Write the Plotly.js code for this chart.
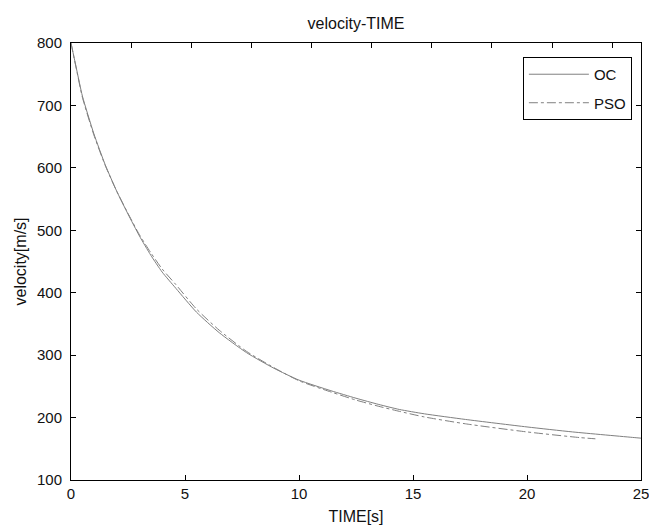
<!DOCTYPE html>
<html>
<head>
<meta charset="utf-8">
<script src="https://cdn.plot.ly/plotly-3.0.1.min.js"></script>
<style>html,body{margin:0;padding:0;background:#fff;}#chart{width:649px;height:525px;}</style>
</head>
<body>
<div id="chart"></div>
<script>
// Data
var ocTime = [0, 0.25, 0.5, 1.0, 1.5, 2.0, 2.5, 3.0, 3.5, 4.0, 4.6, 5.5, 6.5, 7.7, 8.9, 10.0, 11.4, 12.5, 13.5, 14.4, 15.5, 17.3, 20.0, 22.0, 24.7, 25.0];
var ocVelocity = [800, 757, 715, 655, 605, 563, 526, 491, 460, 433, 407, 369, 336, 304, 279, 260, 243, 231, 221, 213, 206, 197, 185, 177, 168, 167];
var psoTime = [0, 0.25, 0.5, 1.0, 1.5, 2.0, 2.5, 3.0, 3.5, 4.0, 4.6, 5.5, 6.5, 7.7, 8.9, 10.0, 11.4, 12.5, 13.5, 14.4, 15.5, 17.3, 20.0, 22.3, 23.0];
var psoVelocity = [800, 756, 713, 653, 604, 563, 527, 493, 464, 438, 413, 374, 340, 306, 280, 259, 241, 228, 218, 210, 201, 190, 177, 168, 166];
var seriesNames = ['OC', 'PSO'];
var xTickVals = [0, 5, 10, 15, 20, 25];
var yTickVals = [100, 200, 300, 400, 500, 600, 700, 800];

var fontFamily = 'Liberation Sans, Arial, Helvetica, sans-serif';
var lineColor = '#808080';
var textColor = '#111';

var traces = [
  {x: ocTime, y: ocVelocity, type: 'scatter', mode: 'lines', name: seriesNames[0],
   legendgroup: 'a', line: {color: lineColor, width: 1, dash: 'solid', shape: 'spline', smoothing: 0.6}, hoverinfo: 'skip'},
  {x: psoTime, y: psoVelocity, type: 'scatter', mode: 'lines', name: seriesNames[1],
   legendgroup: 'b', line: {color: lineColor, width: 1, dash: 'dashdot', shape: 'spline', smoothing: 0.6}, hoverinfo: 'skip'},
  {x: [], y: [], type: 'scatter', mode: 'lines', xaxis: 'x2', yaxis: 'y', showlegend: false, hoverinfo: 'skip'}
];

var layout = {
  width: 649, height: 525,
  margin: {l: 71, r: 8, t: 43, b: 45, pad: 0},
  paper_bgcolor: '#fff', plot_bgcolor: '#fff',
  font: {family: fontFamily, size: 15, color: textColor},
  showlegend: true,
  title: {text: 'velocity-TIME', font: {family: fontFamily, size: 16, color: textColor},
          x: 0.5, xref: 'paper', xanchor: 'center', y: 1 - 23/525, yref: 'container', yanchor: 'middle'},
  xaxis: {
    range: [0, 25], tickvals: xTickVals, ticktext: xTickVals.map(String),
    ticks: 'inside', ticklen: 5, tickcolor: '#000', tickwidth: 1,
    showline: true, linecolor: '#000', linewidth: 1, mirror: true,
    showgrid: false, zeroline: false, ticklabeloverflow: 'allow',
    tickfont: {family: fontFamily, size: 15, color: textColor},
    title: {text: 'TIME[s]', font: {family: fontFamily, size: 16, color: textColor}, standoff: 13}
  },
  xaxis2: {
    overlaying: 'x', side: 'top', anchor: 'y', range: [0, 9.48], dtick: 1, tick0: 0,
    ticks: 'inside', ticklen: 5, tickcolor: '#000', tickwidth: 1,
    showticklabels: false, showline: false, showgrid: false, zeroline: false
  },
  yaxis: {
    range: [100, 800], tickvals: yTickVals, ticktext: yTickVals.map(String),
    ticks: 'inside', ticklen: 5, tickcolor: '#000', tickwidth: 1,
    showline: true, linecolor: '#000', linewidth: 1, mirror: 'ticks',
    showgrid: false, zeroline: false, ticklabelstandoff: 5,
    tickfont: {family: fontFamily, size: 15, color: textColor},
    title: {text: 'velocity[m/s]', font: {family: fontFamily, size: 16, color: textColor}, standoff: 6}
  },
  legend: {
    x: 0.984, y: 0.968, xanchor: 'right', yanchor: 'top',
    bgcolor: '#fff', bordercolor: '#000', borderwidth: 1,
    font: {family: fontFamily, size: 15, color: textColor},
    traceorder: 'grouped', tracegroupgap: 6,
    itemwidth: 60
  }
};

Plotly.newPlot('chart', traces, layout, {staticPlot: true, displayModeBar: false});
</script>
</body>
</html>
